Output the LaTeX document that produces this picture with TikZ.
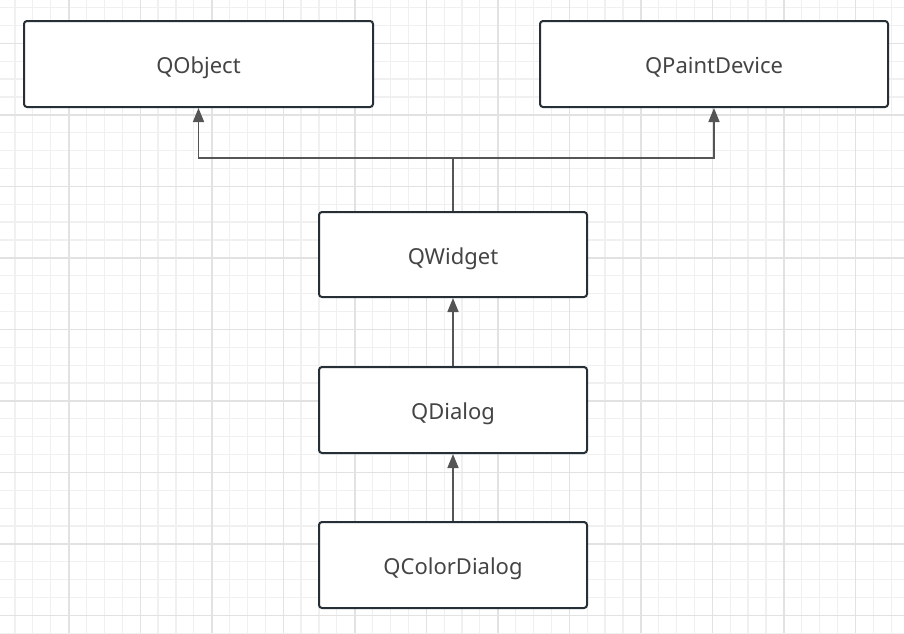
\documentclass[tikz,border=0pt]{standalone}
\usepackage{fontspec}
\setmainfont{Noto Sans}
\usetikzlibrary{arrows.meta}
\definecolor{boxline}{HTML}{262F36}
\definecolor{boxtext}{HTML}{444444}
\definecolor{arrline}{HTML}{555555}
\definecolor{gridminor}{HTML}{F0F0F0}
\definecolor{gridmajor}{HTML}{E2E2E2}
\tikzset{
    classbox/.style={draw=boxline, line width=2pt, rounded corners=3pt, fill=white,
        font=\fontsize{22}{26}\selectfont, text=boxtext, inner sep=0pt,
        text height=22pt, text depth=3pt},
    conn/.style={draw=arrline, line width=1.6pt, -{Triangle[length=14pt,width=11pt]}}
}
\begin{document}
\begin{tikzpicture}[x=1pt, y=-1pt]
    \useasboundingbox (0,0) rectangle (904,633);
    % background grid
    \foreach \i in {0,...,50} \draw[gridminor, line width=1.2pt] (15+17.88*\i,0)--(15+17.88*\i,633);
    \foreach \i in {0,...,35} \draw[gridminor, line width=1.2pt] (0,7.5+17.88*\i)--(904,7.5+17.88*\i);
    \foreach \i in {0,...,12} \draw[gridmajor, line width=1.2pt] (-2.5+71.5*\i,0)--(-2.5+71.5*\i,633);
    \foreach \i in {0,...,8} \draw[gridmajor, line width=1.2pt] (0,43.5+71.5*\i)--(904,43.5+71.5*\i);
    % classes
    \node[classbox, minimum width=349pt, minimum height=86pt] (qobject) at (198.5,64) {QObject};
    \node[classbox, minimum width=348pt, minimum height=86pt] (qpaintdevice) at (714,64) {QPaintDevice};
    \node[classbox, minimum width=268pt, minimum height=85pt] (qwidget) at (453,254.5) {QWidget};
    \node[classbox, minimum width=268pt, minimum height=86pt] (qdialog) at (453,410) {QDialog};
    \node[classbox, minimum width=268pt, minimum height=86pt] (qcolordialog) at (453,565) {QColorDialog};
    % inheritance
    \coordinate (fork) at (453,158);
    \draw[conn] (qwidget.north) -- (fork) -| (qobject.south);
    \draw[conn] (fork) -| (qpaintdevice.south);
    \draw[conn] (qdialog.north) -- (qwidget.south);
    \draw[conn] (qcolordialog.north) -- (qdialog.south);
\end{tikzpicture}
\end{document}
